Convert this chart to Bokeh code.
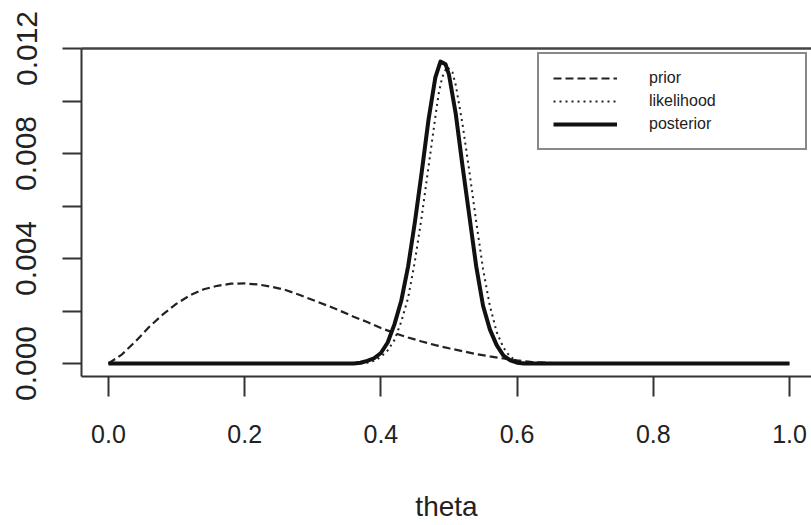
from bokeh.plotting import figure
from bokeh.models import Range1d, FixedTicker, LinearAxis, Legend, LegendItem, PrintfTickFormatter
from bokeh.embed import file_html
from bokeh.resources import INLINE

# ---- data ----
theta_prior = [0.0, 0.02, 0.04, 0.06, 0.08, 0.10, 0.12, 0.14, 0.16, 0.18, 0.20,
               0.22, 0.24, 0.26, 0.28, 0.30, 0.32, 0.34, 0.36, 0.38, 0.40,
               0.42, 0.44, 0.46, 0.48, 0.50, 0.52, 0.54, 0.56, 0.58, 0.60,
               0.62, 0.65, 0.70, 1.0]
prior = [0.0, 0.00035, 0.00085, 0.0014, 0.00187, 0.00228, 0.0026, 0.00283, 0.00296, 0.00304, 0.00305,
         0.00301, 0.00292, 0.0028, 0.00262, 0.00242, 0.00222, 0.00201, 0.00178, 0.00158, 0.00135,
         0.00116, 0.00099, 0.00084, 0.0007, 0.00058, 0.00047, 0.00036, 0.00027, 0.00019, 0.00012,
         0.00006, 0.00002, 0.0, 0.0]

theta_lik = [0.0, 0.37, 0.38, 0.39, 0.40, 0.41, 0.42, 0.43, 0.44, 0.45, 0.46, 0.47, 0.48,
             0.485, 0.49, 0.497, 0.505, 0.51, 0.52, 0.53, 0.54, 0.55, 0.56, 0.57, 0.58, 0.59,
             0.60, 0.61, 0.62, 1.0]
likelihood = [0.0, 0.0, 0.00003, 0.0001, 0.00025, 0.0005, 0.0009, 0.0016, 0.0025, 0.0039, 0.0056,
              0.0075, 0.0094, 0.0103, 0.0109, 0.0113, 0.0111, 0.0106, 0.0091, 0.0073, 0.0054,
              0.0036, 0.0022, 0.0012, 0.0006, 0.00025, 0.0001, 0.00003, 0.0, 0.0]

theta_post = [0.0, 0.36, 0.37, 0.38, 0.39, 0.40, 0.41, 0.42, 0.43, 0.44, 0.45, 0.46, 0.47,
              0.48, 0.4875, 0.495, 0.50, 0.51, 0.52, 0.53, 0.54, 0.55, 0.56, 0.57, 0.58, 0.59,
              0.60, 0.61, 1.0]
posterior = [0.0, 0.0, 0.00003, 0.0001, 0.0002, 0.0004, 0.0008, 0.0015, 0.0024, 0.0037, 0.0054,
             0.0073, 0.0093, 0.0109, 0.0115, 0.0114, 0.0110, 0.0095, 0.0075, 0.0056, 0.0037, 0.0022,
             0.0013, 0.0007, 0.0003, 0.00012, 0.00003, 0.0, 0.0]

x_ticks = [0.0, 0.2, 0.4, 0.6, 0.8, 1.0]
y_major_ticks = [0.0, 0.004, 0.008, 0.012]
y_minor_ticks = [0.002, 0.006, 0.010]
series_labels = ["prior", "likelihood", "posterior"]

INK = "#222222"

p = figure(width=811, height=525, output_backend="svg", toolbar_location=None,
           x_range=Range1d(-0.0396, 1.0323), y_range=Range1d(-0.000495, 0.012),
           min_border_left=81, min_border_top=48, min_border_right=0, min_border_bottom=149)
p.outline_line_color = None
p.grid.visible = False
p.background_fill_color = "white"

r_prior = p.line(theta_prior, prior, line_color=INK, line_width=2.2, line_dash="8 4")
r_lik = p.line(theta_lik, likelihood, line_color=INK, line_width=2, line_dash="2 4")
r_post = p.line(theta_post, posterior, line_color="#111111", line_width=4, line_join="round")

# x axis
xa = p.xaxis[0]
xa.ticker = FixedTicker(ticks=x_ticks)
xa.formatter = PrintfTickFormatter(format="%.1f")
xa.axis_line_width = 2
xa.axis_line_color = "#333333"
xa.major_tick_line_width = 2
xa.major_tick_line_color = "#333333"
xa.major_tick_out = 20
xa.major_tick_in = 0
xa.minor_tick_out = 0
xa.minor_tick_in = 0
xa.major_label_text_font = "Liberation Sans"
xa.major_label_text_font_size = "25px"
xa.major_label_text_color = INK
xa.major_label_standoff = 28
xa.axis_label = "theta"
xa.axis_label_text_font = "Liberation Sans"
xa.axis_label_text_font_size = "28px"
xa.axis_label_text_font_style = "normal"
xa.axis_label_text_color = INK
xa.axis_label_standoff = 45

# y axis
ya = p.yaxis[0]
ya.ticker = FixedTicker(ticks=y_major_ticks, minor_ticks=y_minor_ticks)
ya.formatter = PrintfTickFormatter(format="%.3f")
ya.axis_line_width = 2
ya.axis_line_color = "#333333"
ya.major_tick_line_width = 2
ya.major_tick_line_color = "#333333"
ya.minor_tick_line_width = 2
ya.minor_tick_line_color = "#333333"
ya.major_tick_out = 19
ya.major_tick_in = 0
ya.minor_tick_out = 19
ya.minor_tick_in = 0
ya.major_label_orientation = "vertical"
ya.major_label_text_font = "Liberation Sans"
ya.major_label_text_font_size = "30px"
ya.major_label_text_color = INK
ya.major_label_standoff = 26

# top box line
top = LinearAxis(ticker=FixedTicker(ticks=[]), axis_line_width=2.5, axis_line_color="#444444",
                 major_tick_out=0, major_tick_in=0, minor_tick_out=0, minor_tick_in=0,
                 major_label_text_font_size="0px")
p.add_layout(top, "above")

legend = Legend(items=[LegendItem(label=series_labels[0], renderers=[r_prior]),
                       LegendItem(label=series_labels[1], renderers=[r_lik]),
                       LegendItem(label=series_labels[2], renderers=[r_post])],
                location="top_right", padding=14, spacing=3, glyph_width=64, glyph_height=20,
                label_standoff=32, label_width=142, label_height=20,
                label_text_font="Liberation Sans", label_text_font_size="16px",
                label_text_color=INK, border_line_color="#111111", border_line_width=2,
                margin=4, background_fill_alpha=1.0)
p.add_layout(legend)

open("out.html", "w").write(file_html(p, INLINE))
